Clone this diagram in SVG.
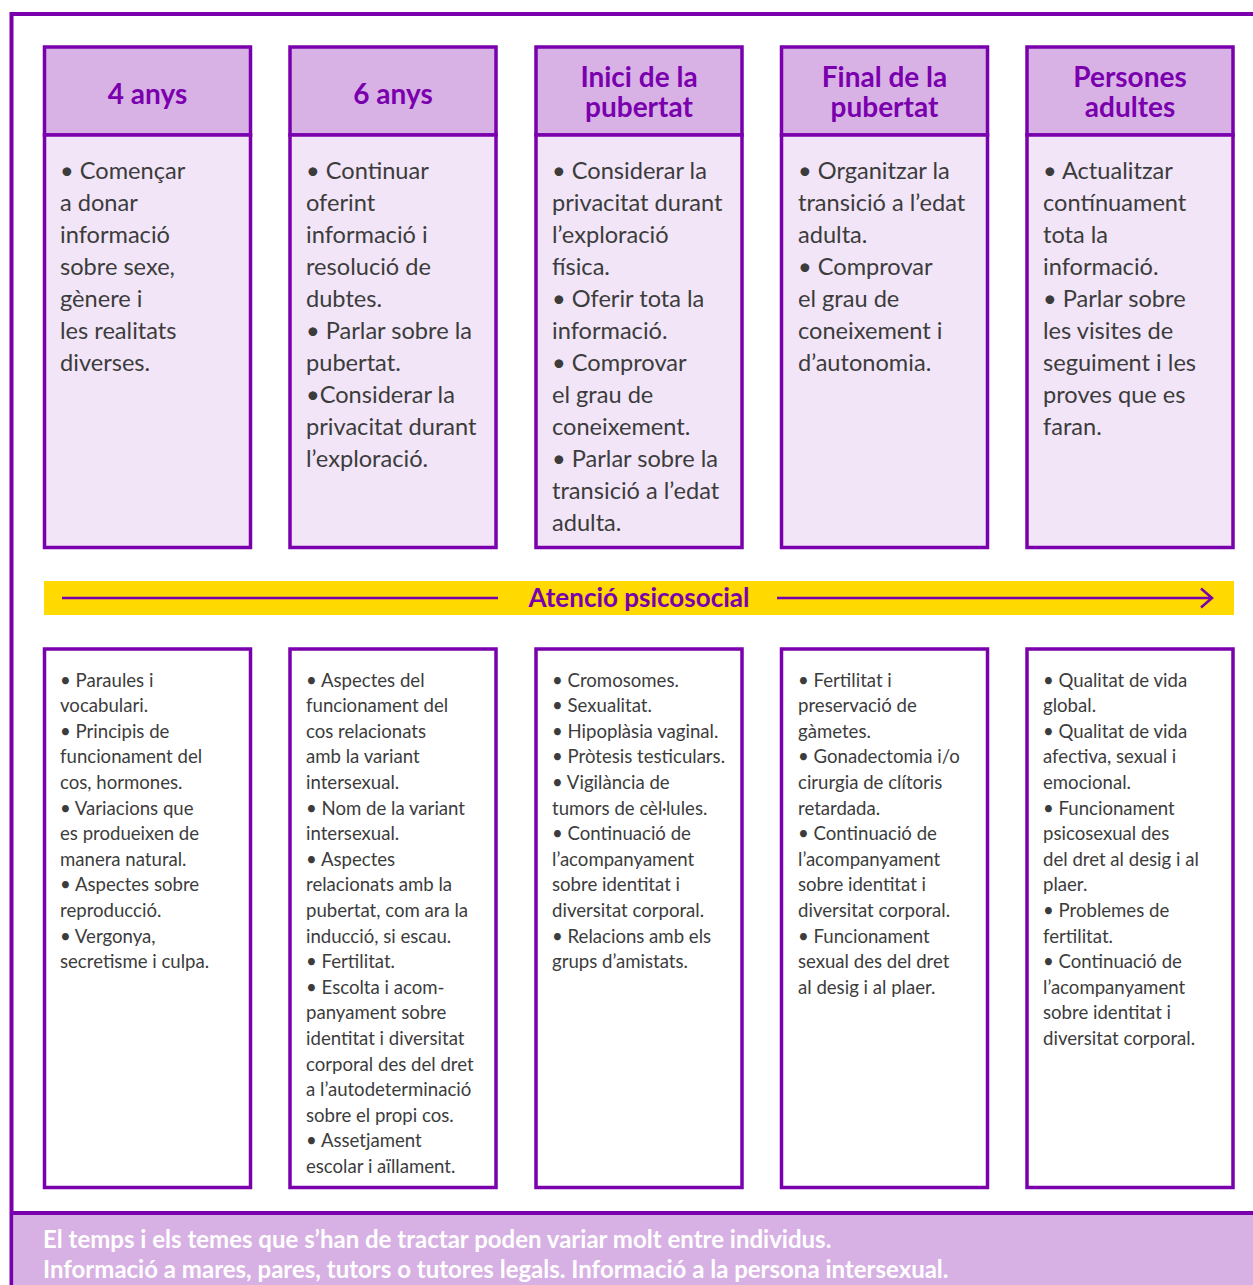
<svg xmlns="http://www.w3.org/2000/svg" width="1253" height="1285" viewBox="0 0 1253 1285">
<style>
.frame{fill:none;stroke:#7a00ae;stroke-width:4}
.box{stroke:#7a00ae;stroke-width:3.5}
.hd{fill:#d8b2e5}
.bd{fill:#f1e5f7}
.lw{fill:#ffffff}
.ht{font-family:Lato,"Open Sans",sans-serif;font-weight:700;font-size:28px;fill:#7a00ae;text-anchor:middle}
.ut{font-family:Lato,"Open Sans",sans-serif;font-size:23.6px;fill:#3c3c3c}
.lt{font-family:Lato,"Open Sans",sans-serif;font-size:18.6px;fill:#3c3c3c}
.ft{font-family:Lato,"Open Sans",sans-serif;font-weight:700;font-size:24px;fill:#ffffff}
.arr{stroke:#7a00ae;stroke-width:2.5;fill:none}
</style>
<rect width="1253" height="1285" fill="#ffffff"/>
<g id="frame">
<path class="frame" d="M1253 14 H11.5 V1285"/>
<rect x="13.5" y="1213" width="1240" height="72" fill="#d8b1e4"/>
<path d="M11 1213 H1253" stroke="#7a00ae" stroke-width="4"/>
</g>
<g id="col1-top">
<rect class="box hd" x="44.5" y="47" width="206" height="88"/>
<rect class="box bd" x="44.5" y="135" width="206" height="412.5"/>
<text class="ht" x="147.5" y="104">4 anys</text>
<text class="ut" x="60" y="179"><tspan x="60">• Començar</tspan><tspan x="60" dy="32">a donar</tspan><tspan x="60" dy="32">informació</tspan><tspan x="60" dy="32">sobre sexe,</tspan><tspan x="60" dy="32">gènere i</tspan><tspan x="60" dy="32">les realitats</tspan><tspan x="60" dy="32">diverses.</tspan></text>
</g>
<g id="col2-top">
<rect class="box hd" x="290" y="47" width="206" height="88"/>
<rect class="box bd" x="290" y="135" width="206" height="412.5"/>
<text class="ht" x="393" y="104">6 anys</text>
<text class="ut" x="306" y="179"><tspan x="306">• Continuar</tspan><tspan x="306" dy="32">oferint</tspan><tspan x="306" dy="32">informació i</tspan><tspan x="306" dy="32">resolució de</tspan><tspan x="306" dy="32">dubtes.</tspan><tspan x="306" dy="32">• Parlar sobre la</tspan><tspan x="306" dy="32">pubertat.</tspan><tspan x="306" dy="32">•Considerar la</tspan><tspan x="306" dy="32">privacitat durant</tspan><tspan x="306" dy="32">l’exploració.</tspan></text>
</g>
<g id="col3-top">
<rect class="box hd" x="536" y="47" width="206" height="88"/>
<rect class="box bd" x="536" y="135" width="206" height="412.5"/>
<text class="ht" x="639" y="87"><tspan x="639">Inici de la</tspan><tspan x="639" dy="30">pubertat</tspan></text>
<text class="ut" x="552" y="179"><tspan x="552">• Considerar la</tspan><tspan x="552" dy="32">privacitat durant</tspan><tspan x="552" dy="32">l’exploració</tspan><tspan x="552" dy="32">física.</tspan><tspan x="552" dy="32">• Oferir tota la</tspan><tspan x="552" dy="32">informació.</tspan><tspan x="552" dy="32">• Comprovar</tspan><tspan x="552" dy="32">el grau de</tspan><tspan x="552" dy="32">coneixement.</tspan><tspan x="552" dy="32">• Parlar sobre la</tspan><tspan x="552" dy="32">transició a l’edat</tspan><tspan x="552" dy="32">adulta.</tspan></text>
</g>
<g id="col4-top">
<rect class="box hd" x="781.5" y="47" width="206" height="88"/>
<rect class="box bd" x="781.5" y="135" width="206" height="412.5"/>
<text class="ht" x="884.5" y="87"><tspan x="884.5">Final de la</tspan><tspan x="884.5" dy="30">pubertat</tspan></text>
<text class="ut" x="798" y="179"><tspan x="798">• Organitzar la</tspan><tspan x="798" dy="32">transició a l’edat</tspan><tspan x="798" dy="32">adulta.</tspan><tspan x="798" dy="32">• Comprovar</tspan><tspan x="798" dy="32">el grau de</tspan><tspan x="798" dy="32">coneixement i</tspan><tspan x="798" dy="32">d’autonomia.</tspan></text>
</g>
<g id="col5-top">
<rect class="box hd" x="1027" y="47" width="206" height="88"/>
<rect class="box bd" x="1027" y="135" width="206" height="412.5"/>
<text class="ht" x="1130" y="87"><tspan x="1130">Persones</tspan><tspan x="1130" dy="30">adultes</tspan></text>
<text class="ut" x="1043" y="179"><tspan x="1043">• Actualitzar</tspan><tspan x="1043" dy="32">contínuament</tspan><tspan x="1043" dy="32">tota la</tspan><tspan x="1043" dy="32">informació.</tspan><tspan x="1043" dy="32">• Parlar sobre</tspan><tspan x="1043" dy="32">les visites de</tspan><tspan x="1043" dy="32">seguiment i les</tspan><tspan x="1043" dy="32">proves que es</tspan><tspan x="1043" dy="32">faran.</tspan></text>
</g>
<g id="timeline">
<rect x="44" y="581" width="1190" height="34" fill="#ffd900"/>
<path class="arr" d="M62 598 H498 M777 598 H1212 M1201 588.5 L1212 598 L1201 607.5"/>
<text x="639" y="607" font-family="Lato,'Open Sans',sans-serif" font-weight="700" font-size="26" fill="#7a00ae" text-anchor="middle">Atenció psicosocial</text>
</g>
<g id="col1-bottom">
<rect class="box lw" x="44.5" y="649" width="206" height="538.5"/>
<text class="lt" x="60" y="686.5"><tspan x="60">• Paraules i</tspan><tspan x="60" dy="25.6">vocabulari.</tspan><tspan x="60" dy="25.6">• Principis de</tspan><tspan x="60" dy="25.6">funcionament del</tspan><tspan x="60" dy="25.6">cos, hormones.</tspan><tspan x="60" dy="25.6">• Variacions que</tspan><tspan x="60" dy="25.6">es produeixen de</tspan><tspan x="60" dy="25.6">manera natural.</tspan><tspan x="60" dy="25.6">• Aspectes sobre</tspan><tspan x="60" dy="25.6">reproducció.</tspan><tspan x="60" dy="25.6">• Vergonya,</tspan><tspan x="60" dy="25.6">secretisme i culpa.</tspan></text>
</g>
<g id="col2-bottom">
<rect class="box lw" x="290" y="649" width="206" height="538.5"/>
<text class="lt" x="306" y="686.5"><tspan x="306">• Aspectes del</tspan><tspan x="306" dy="25.6">funcionament del</tspan><tspan x="306" dy="25.6">cos relacionats</tspan><tspan x="306" dy="25.6">amb la variant</tspan><tspan x="306" dy="25.6">intersexual.</tspan><tspan x="306" dy="25.6">• Nom de la variant</tspan><tspan x="306" dy="25.6">intersexual.</tspan><tspan x="306" dy="25.6">• Aspectes</tspan><tspan x="306" dy="25.6">relacionats amb la</tspan><tspan x="306" dy="25.6">pubertat, com ara la</tspan><tspan x="306" dy="25.6">inducció, si escau.</tspan><tspan x="306" dy="25.6">• Fertilitat.</tspan><tspan x="306" dy="25.6">• Escolta i acom-</tspan><tspan x="306" dy="25.6">panyament sobre</tspan><tspan x="306" dy="25.6">identitat i diversitat</tspan><tspan x="306" dy="25.6">corporal des del dret</tspan><tspan x="306" dy="25.6">a l’autodeterminació</tspan><tspan x="306" dy="25.6">sobre el propi cos.</tspan><tspan x="306" dy="25.6">• Assetjament</tspan><tspan x="306" dy="25.6">escolar i aïllament.</tspan></text>
</g>
<g id="col3-bottom">
<rect class="box lw" x="536" y="649" width="206" height="538.5"/>
<text class="lt" x="552" y="686.5"><tspan x="552">• Cromosomes.</tspan><tspan x="552" dy="25.6">• Sexualitat.</tspan><tspan x="552" dy="25.6">• Hipoplàsia vaginal.</tspan><tspan x="552" dy="25.6">• Pròtesis testiculars.</tspan><tspan x="552" dy="25.6">• Vigilància de</tspan><tspan x="552" dy="25.6">tumors de cèl·lules.</tspan><tspan x="552" dy="25.6">• Continuació de</tspan><tspan x="552" dy="25.6">l’acompanyament</tspan><tspan x="552" dy="25.6">sobre identitat i</tspan><tspan x="552" dy="25.6">diversitat corporal.</tspan><tspan x="552" dy="25.6">• Relacions amb els</tspan><tspan x="552" dy="25.6">grups d’amistats.</tspan></text>
</g>
<g id="col4-bottom">
<rect class="box lw" x="781.5" y="649" width="206" height="538.5"/>
<text class="lt" x="798" y="686.5"><tspan x="798">• Fertilitat i</tspan><tspan x="798" dy="25.6">preservació de</tspan><tspan x="798" dy="25.6">gàmetes.</tspan><tspan x="798" dy="25.6">• Gonadectomia i/o</tspan><tspan x="798" dy="25.6">cirurgia de clítoris</tspan><tspan x="798" dy="25.6">retardada.</tspan><tspan x="798" dy="25.6">• Continuació de</tspan><tspan x="798" dy="25.6">l’acompanyament</tspan><tspan x="798" dy="25.6">sobre identitat i</tspan><tspan x="798" dy="25.6">diversitat corporal.</tspan><tspan x="798" dy="25.6">• Funcionament</tspan><tspan x="798" dy="25.6">sexual des del dret</tspan><tspan x="798" dy="25.6">al desig i al plaer.</tspan></text>
</g>
<g id="col5-bottom">
<rect class="box lw" x="1027" y="649" width="206" height="538.5"/>
<text class="lt" x="1043" y="686.5"><tspan x="1043">• Qualitat de vida</tspan><tspan x="1043" dy="25.6">global.</tspan><tspan x="1043" dy="25.6">• Qualitat de vida</tspan><tspan x="1043" dy="25.6">afectiva, sexual i</tspan><tspan x="1043" dy="25.6">emocional.</tspan><tspan x="1043" dy="25.6">• Funcionament</tspan><tspan x="1043" dy="25.6">psicosexual des</tspan><tspan x="1043" dy="25.6">del dret al desig i al</tspan><tspan x="1043" dy="25.6">plaer.</tspan><tspan x="1043" dy="25.6">• Problemes de</tspan><tspan x="1043" dy="25.6">fertilitat.</tspan><tspan x="1043" dy="25.6">• Continuació de</tspan><tspan x="1043" dy="25.6">l’acompanyament</tspan><tspan x="1043" dy="25.6">sobre identitat i</tspan><tspan x="1043" dy="25.6">diversitat corporal.</tspan></text>
</g>
<g id="footer">
<text class="ft" x="43" y="1248">El temps i els temes que s’han de tractar poden variar molt entre individus.</text>
<text class="ft" x="43" y="1278">Informació a mares, pares, tutors o tutores legals. Informació a la persona intersexual.</text>
</g>
</svg>
